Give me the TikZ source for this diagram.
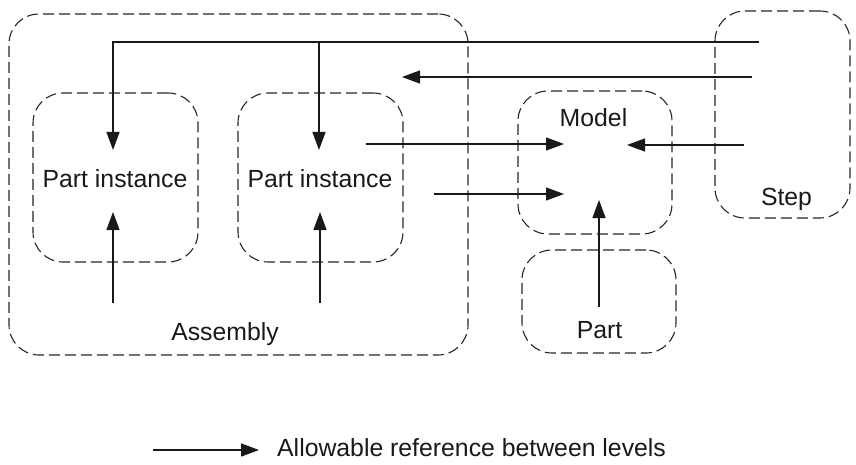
\documentclass[tikz,border=0pt]{standalone}
\usepackage{fontspec}
\setmainfont{Liberation Sans}
\usetikzlibrary{arrows.meta}

\tikzset{
  levelbox/.style={draw=black!85, dashed, dash pattern=on 11pt off 5pt, line width=1.1pt,
    rounded corners=30pt, rectangle, inner sep=0pt},
  lbl/.style={anchor=base, inner sep=0pt, text=black!90, font=\fontsize{24.8}{30}\selectfont},
  ref/.style={draw=black!90, line width=1.3pt, -{Triangle[length=18pt,width=13pt]}}
}

\begin{document}
\begin{tikzpicture}[x=1pt, y=-1pt]
                    \useasboundingbox (0,0) rectangle (856,465);
                    % Nodes
                    \node[levelbox, minimum width=459pt, minimum height=341pt] (asm) at (238.5,184.5) {};
                    \node[levelbox, minimum width=165pt, minimum height=169pt] (pi1) at (115.5,177.5) {};
                    \node[levelbox, minimum width=165pt, minimum height=169pt] (pi2) at (320.5,177.5) {};
                    \node[levelbox, minimum width=154pt, minimum height=143pt] (model) at (595,162.5) {};
                    \node[levelbox, minimum width=154pt, minimum height=103pt] (part) at (599,301.5) {};
                    \node[levelbox, minimum width=135pt, minimum height=207pt] (step) at (782.5,114.5) {};
                    \node[lbl] (pi1txt) at (115,187) {Part instance};
                    \node[lbl] (pi2txt) at (320,187) {Part instance};
                    \node[lbl] (asmtxt) at (225,340) {Assembly};
                    \node[lbl] (modeltxt) at (593.5,127) {Model};
                    \node[lbl] (parttxt) at (599.5,338) {Part};
                    \node[lbl] (steptxt) at (786.5,205) {Step};
                    \node[lbl, anchor=base west] (legendtxt) at (277,456) {Allowable reference between levels};
                    % Ends of the references
                    \coordinate (stepa) at (759,42);
                    \coordinate (corner) at (113,42);
                    \coordinate (split) at (319,42);
                    \coordinate (pi1top) at (113,150);
                    \coordinate (pi2top) at (319,150);
                    \coordinate (stepb) at (752,77);
                    \coordinate (asmin) at (402,77);
                    \coordinate (pi2out) at (366,144);
                    \coordinate (modela) at (564,144);
                    \coordinate (asmout) at (434,194);
                    \coordinate (modelb) at (564,194);
                    \coordinate (stepc) at (744,145);
                    \coordinate (modelc) at (627,145);
                    \coordinate (pi1low) at (113,303);
                    \coordinate (pi1bot) at (113,212);
                    \coordinate (pi2low) at (320,303);
                    \coordinate (pi2bot) at (320,212);
                    \coordinate (partout) at (599,307);
                    \coordinate (modeld) at (599,200);
                    \coordinate (legenda) at (153,450);
                    \coordinate (legendb) at (259,450);
                    % Edges
                    \draw[ref] (stepa) -- (corner) -- (pi1top);
                    \draw[ref] (split) -- (pi2top);
                    \draw[ref] (stepb) -- (asmin);
                    \draw[ref] (pi2out) -- (modela);
                    \draw[ref] (asmout) -- (modelb);
                    \draw[ref] (stepc) -- (modelc);
                    \draw[ref] (pi1low) -- (pi1bot);
                    \draw[ref] (pi2low) -- (pi2bot);
                    \draw[ref] (partout) -- (modeld);
                    \draw[ref] (legenda) -- (legendb);
                \end{tikzpicture}
\end{document}
